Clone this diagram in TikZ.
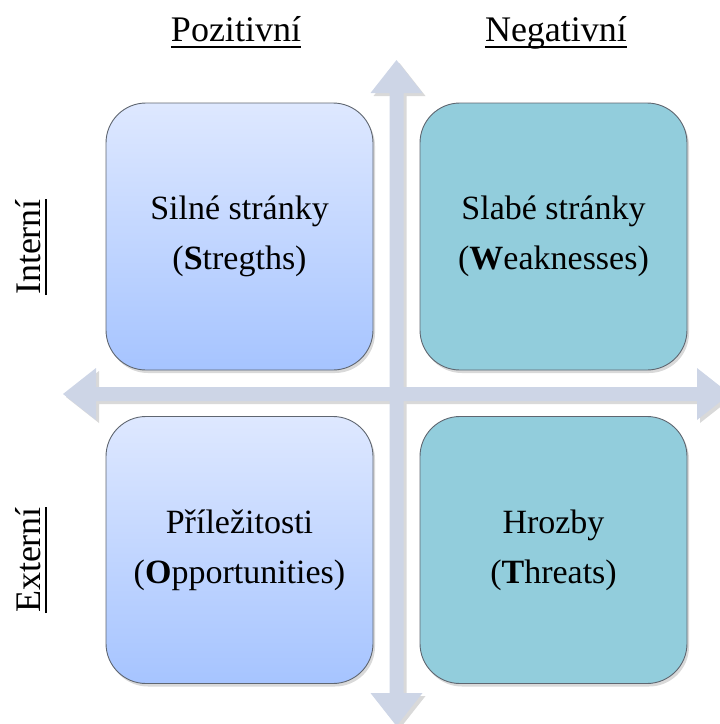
\documentclass[tikz,border=0pt]{standalone}
\usepackage{fontspec}
\setmainfont{Liberation Serif}
\usetikzlibrary{shadows}
\definecolor{arrowc}{RGB}{205,213,230}
\definecolor{tealc}{RGB}{146,205,220}
\definecolor{lbtop}{RGB}{222,232,255}
\definecolor{lbbot}{RGB}{166,196,255}
\definecolor{edgec}{RGB}{95,102,112}
\tikzset{
  quad/.style={draw=edgec, line width=0.9pt, rounded corners=40pt,
    minimum width=267pt, minimum height=267pt, align=center, text=black,
    font=\fontsize{34}{50}\selectfont,
    drop shadow={shadow xshift=2pt, shadow yshift=-3pt, opacity=0.3, fill=gray}},
  posbox/.style={quad, top color=lbtop, bottom color=lbbot},
  negbox/.style={quad, fill=tealc},
  header/.style={font=\fontsize{36}{40}\selectfont, inner sep=0pt, anchor=base},
  uline/.style={line width=1.8pt, black}
}
\begin{document}
\begin{tikzpicture}[x=1pt,y=-1pt]
\useasboundingbox (0,0) rectangle (720,724);
\clip (0,0) rectangle (720,724);
% arrows: shadow (as one transparency group) then fill
\begin{scope}[transparency group, opacity=0.3, xshift=3pt, yshift=-3pt]
  \fill[gray] (396.5,60) -- (422.5,93) -- (403.5,93) -- (403.5,693) -- (422.5,693) -- (396.5,726) -- (370.5,693) -- (389.5,693) -- (389.5,93) -- (370.5,93) -- cycle;
  \fill[gray] (63,394) -- (96,368) -- (96,387) -- (697,387) -- (697,368) -- (730,394) -- (697,420) -- (697,401) -- (96,401) -- (96,420) -- cycle;
\end{scope}
\fill[arrowc] (396.5,60) -- (422.5,93) -- (403.5,93) -- (403.5,693) -- (422.5,693) -- (396.5,726) -- (370.5,693) -- (389.5,693) -- (389.5,93) -- (370.5,93) -- cycle;
\fill[arrowc] (63,394) -- (96,368) -- (96,387) -- (697,387) -- (697,368) -- (730,394) -- (697,420) -- (697,401) -- (96,401) -- (96,420) -- cycle;
% boxes
\node[posbox] (S) at (239.5,236.5) {Silné stránky\\(\textbf{S}tregths)};
\node[negbox] (W) at (553.5,236.5) {Slabé stránky\\(\textbf{W}eaknesses)};
\node[posbox] (O) at (239.5,550) {Příležitosti\\(\textbf{O}pportunities)};
\node[negbox] (T) at (553.5,550) {Hrozby\\(\textbf{T}hreats)};
% headers
\node[header] (pos) at (236,41) {Pozitivní};
\node[header] (neg) at (556,41) {Negativní};
\node[header, rotate=90] (int) at (40,247) {Interní};
\node[header, rotate=90] (ext) at (40,560) {Externí};
\draw[uline] ([yshift=-6pt]pos.base west) -- ([yshift=-6pt]pos.base east);
\draw[uline] ([yshift=-6pt]neg.base west) -- ([yshift=-6pt]neg.base east);
\draw[uline] ([xshift=6pt]int.base west) -- ([xshift=6pt]int.base east);
\draw[uline] ([xshift=6pt]ext.base west) -- ([xshift=6pt]ext.base east);
\end{tikzpicture}
\end{document}
